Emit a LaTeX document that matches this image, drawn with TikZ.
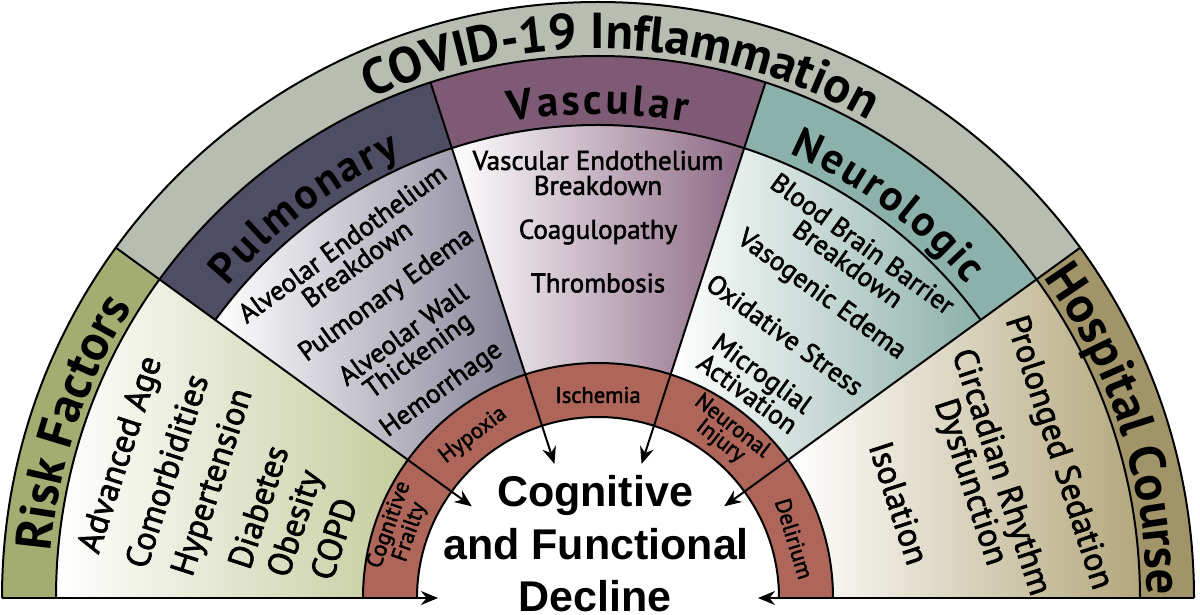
\documentclass[tikz,border=0pt]{standalone}
\usepackage{fontspec}
\setmainfont{PT Sans}
\newfontfamily\cfdfamily{Liberation Sans}
\newfontfamily\itemfam{PT Sans}[FakeBold=2]
\usetikzlibrary{arrows.meta,decorations.text}

\definecolor{gband}{HTML}{B8BDB2}
\definecolor{riskT}{HTML}{A4AD71}
\definecolor{riskC}{HTML}{C4CC9D}
\definecolor{pulT}{HTML}{4E4D63}
\definecolor{pulC}{HTML}{838195}
\definecolor{vasT}{HTML}{7E5A74}
\definecolor{vasC}{HTML}{8C6883}
\definecolor{neuT}{HTML}{8CB1AA}
\definecolor{neuC}{HTML}{8CB0A8}
\definecolor{hosT}{HTML}{A09468}
\definecolor{hosC}{HTML}{B3A77C}
\definecolor{ringc}{HTML}{AE665A}

\newcommand\dgOuter{\fontsize{50.5}{50.5}\selectfont\bfseries}
\newcommand\dgBand{\fontsize{43}{43}\selectfont\bfseries}
\newcommand\dgItem{\itemfam\fontsize{27}{25}\selectfont}
\newcommand\dgBig{\itemfam\fontsize{34}{31}\selectfont}
\newcommand\dgRing{\itemfam\fontsize{22.5}{19}\selectfont}
\newcommand\dgCenter{\cfdfamily\bfseries\fontsize{43}{52}\selectfont}

\tikzset{
  ln/.style={line width=2pt, draw=black},
  arr/.style={line width=2pt, draw=black, -{Stealth[length=17pt,width=14pt]}},
  item/.style={font=\dgItem, align=center, inner sep=0pt},
  bigitem/.style={font=\dgBig, align=center, inner sep=0pt},
  ringlab/.style={font=\dgRing, align=center, inner sep=0pt},
  cfd/.style={font=\dgCenter, anchor=base, inner sep=0pt},
}

\begin{document}
\begin{tikzpicture}[x=1pt,y=1pt]
\useasboundingbox (0,0) rectangle (1200,614);
\fill[white] (0,0) rectangle (1200,614);
\begin{scope}[shift={(598pt,16pt)}]
% outer band
\fill[riskT] (144:596pt) arc[start angle=144,end angle=180,radius=596pt] -- (180:542pt) arc[start angle=180,end angle=144,radius=542pt] -- cycle;
\fill[gband] (36:596pt) arc[start angle=36,end angle=144,radius=596pt] -- (144:542pt) arc[start angle=144,end angle=36,radius=542pt] -- cycle;
\fill[hosT] (0:596pt) arc[start angle=0,end angle=36,radius=596pt] -- (36:542pt) arc[start angle=36,end angle=0,radius=542pt] -- cycle;
% title bands
\fill[pulT] (108:542pt) arc[start angle=108,end angle=144,radius=542pt] -- (144:473pt) arc[start angle=144,end angle=108,radius=473pt] -- cycle;
\fill[vasT] (72:542pt) arc[start angle=72,end angle=108,radius=542pt] -- (108:473pt) arc[start angle=108,end angle=72,radius=473pt] -- cycle;
\fill[neuT] (36:542pt) arc[start angle=36,end angle=72,radius=542pt] -- (72:473pt) arc[start angle=72,end angle=36,radius=473pt] -- cycle;
% content areas
\shade[left color=white,right color=riskC] (144:542pt) arc[start angle=144,end angle=180,radius=542pt] -- (180:235pt) arc[start angle=180,end angle=144,radius=235pt] -- cycle;
\shade[left color=white,right color=pulC] (108:473pt) arc[start angle=108,end angle=144,radius=473pt] -- (144:235pt) arc[start angle=144,end angle=108,radius=235pt] -- cycle;
\shade[left color=white,right color=vasC] (72:473pt) arc[start angle=72,end angle=108,radius=473pt] -- (108:235pt) arc[start angle=108,end angle=72,radius=235pt] -- cycle;
\shade[left color=white,right color=neuC] (36:473pt) arc[start angle=36,end angle=72,radius=473pt] -- (72:235pt) arc[start angle=72,end angle=36,radius=235pt] -- cycle;
\shade[left color=white,right color=hosC] (0:542pt) arc[start angle=0,end angle=36,radius=542pt] -- (36:235pt) arc[start angle=36,end angle=0,radius=235pt] -- cycle;
% red ring
\fill[ringc] (0:235pt) arc[start angle=0,end angle=180,radius=235pt] -- (180:181pt) arc[start angle=180,end angle=0,radius=181pt] -- cycle;
% arcs
\draw[ln] (180:596pt) arc[start angle=180,end angle=0,radius=596pt];
\draw[ln] (180:542pt) arc[start angle=180,end angle=0,radius=542pt];
\draw[ln] (144:473pt) arc[start angle=144,end angle=36,radius=473pt];
\draw[ln] (180:235pt) arc[start angle=180,end angle=0,radius=235pt];
\draw[ln] (180:181pt) arc[start angle=180,end angle=0,radius=181pt];
% connector end points
\coordinate (p180o) at (180:596pt); \coordinate (p180t) at (180:160pt);
\coordinate (p144o) at (144:596pt); \coordinate (p144t) at (144:156pt);
\coordinate (p108o) at (108:542pt); \coordinate (p108t) at (108:141pt);
\coordinate (p72o) at (72:542pt);   \coordinate (p72t) at (72:141pt);
\coordinate (p36o) at (36:596pt);   \coordinate (p36t) at (36:156pt);
\coordinate (p0o) at (0:596pt);     \coordinate (p0t) at (0:160pt);
\draw[arr] (p180o) -- (p180t);
\draw[arr] (p144o) -- (p144t);
\draw[arr] (p108o) -- (p108t);
\draw[arr] (p72o) -- (p72t);
\draw[arr] (p36o) -- (p36t);
\draw[arr] (p0o) -- (p0t);
% outer titles
\path[decorate,decoration={text along path,text align=center,text={|\dgOuter|COVID-19 Inflammation}}] (140:549pt) arc[start angle=140,end angle=35,radius=549pt];
\path[decorate,decoration={text along path,text align=center,text={|\dgOuter|Risk Factors}}] (185:549pt) arc[start angle=185,end angle=138.2,radius=549pt];
\path[decorate,decoration={text along path,text align=center,text={|\dgOuter|Hospital Course}}] (41.5:549pt) arc[start angle=41.5,end angle=-5.5,radius=549pt];
% band titles (tracked)
\path[decorate,decoration={text along path,text align=center,text={|\dgBand|{P\kern2.5pt}{u\kern2.5pt}{l\kern2.5pt}{m\kern2.5pt}{o\kern2.5pt}{n\kern2.5pt}{a\kern2.5pt}{r\kern2.5pt}{y}}}] (157:484pt) arc[start angle=157,end angle=97,radius=484pt];
\path[decorate,decoration={text along path,text align=center,text={|\dgBand|{V\kern3pt}{a\kern3pt}{s\kern3pt}{c\kern3pt}{u\kern3pt}{l\kern3pt}{a\kern3pt}{r}}}] (120:484pt) arc[start angle=120,end angle=60,radius=484pt];
\path[decorate,decoration={text along path,text align=center,text={|\dgBand|{N\kern2.5pt}{e\kern2.5pt}{u\kern2.5pt}{r\kern2.5pt}{o\kern2.5pt}{l\kern2.5pt}{o\kern2.5pt}{g\kern2.5pt}{i\kern2.5pt}{c}}}] (83.5:484pt) arc[start angle=83.5,end angle=23.5,radius=484pt];
% risk factors
\node[bigitem,rotate=72] (rf1) at (163.3:497pt) {Advanced Age};
\node[bigitem,rotate=72] (rf2) at (163.6:450pt) {Comorbidities};
\node[bigitem,rotate=72] (rf3) at (163.3:401pt) {Hypertension};
\node[bigitem,rotate=72] (rf4) at (165.0:352pt) {Diabetes};
\node[bigitem,rotate=72] (rf5) at (166.2:310pt) {Obesity};
\node[bigitem,rotate=72] (rf6) at (167.4:271pt) {COPD};
% pulmonary
\node[item,rotate=36] (pe1) at (125.8:425pt) {Alveolar Endothelium\\Breakdown};
\node[item,rotate=36] (pe2) at (124.9:369pt) {Pulmonary Edema};
\node[item,rotate=36] (pe3) at (126.5:313pt) {Alveolar Wall\\Thickening};
\node[item,rotate=36] (pe4) at (126.9:260pt) {Hemorrhage};
% vascular
\node[item] (ve1) at (90:425pt) {Vascular Endothelium\\Breakdown};
\node[item] (ve2) at (90:366pt) {Coagulopathy};
\node[item] (ve3) at (90:315pt) {Thrombosis};
% neurologic
\node[item,rotate=-36] (ne1) at (53.2:430pt) {Blood Brain Barrier\\Breakdown};
\node[item,rotate=-36] (ne2) at (53.6:376pt) {Vasogenic Edema};
\node[item,rotate=-36] (ne3) at (54.6:323pt) {Oxidative Stress};
\node[item,rotate=-36] (ne4) at (53.8:266pt) {Microglial\\Activation};
% hospital
\node[bigitem,rotate=-72] (hc1) at (17.5:482pt) {Prolonged Sedation};
\node[bigitem,rotate=-72] (hc2) at (17.3:405pt) {Circadian Rhythm\\Dysfunction};
\node[bigitem,rotate=-72] (hc3) at (17.5:316pt) {Isolation};
% ring labels
\node[ringlab,rotate=70.7] (cf) at (160.7:210pt) {Cognitive\\Frailty};
\node[ringlab,rotate=37.5] (hy) at (127.5:205pt) {Hypoxia};
\node[ringlab] (is) at (90:203pt) {Ischemia};
\node[ringlab,rotate=-38] (ni) at (52:208pt) {Neuronal\\Injury};
\node[ringlab,rotate=-73] (de) at (16.8:205pt) {Delirium};
% center
\node[cfd] (cfd1) at (-3pt,92pt) {Cognitive};
\node[cfd] (cfd2) at (-2pt,39pt) {and Functional};
\node[cfd] (cfd3) at (-3pt,-13pt) {Decline};
\end{scope}
\end{tikzpicture}
\end{document}
